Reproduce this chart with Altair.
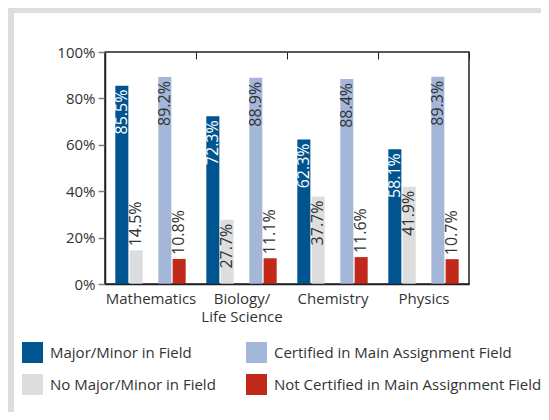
import altair as alt
import pandas as pd

subjects = ["Mathematics", "Biology/\nLife Science", "Chemistry", "Physics"]
major = [85.5, 72.3, 62.3, 58.1]
no_major = [14.5, 27.7, 37.7, 41.9]
certified = [89.2, 88.9, 88.4, 89.3]
not_certified = [10.8, 11.1, 11.6, 10.7]

series_names = [
    "Major/Minor in Field",
    "No Major/Minor in Field",
    "Certified in Main Assignment Field",
    "Not Certified in Main Assignment Field",
]
series_values = [major, no_major, certified, not_certified]
series_colors = ["#00548f", "#dcdddf", "#a4b7d8", "#c1291b"]
y_ticks = [0, 20, 40, 60, 80, 100]

rows = []
for name, vals in zip(series_names, series_values):
    for s, v in zip(subjects, vals):
        rows.append({"subject": s, "series": name, "value": v})
df = pd.DataFrame(rows)

offset_domain = [series_names[0], series_names[1], "gap", series_names[2], series_names[3]]

FONT = "Open Sans"
DARK = "#231f20"
TEXT = "#333333"
BG = "#dcdddf"

x = alt.X(
    "subject:N",
    sort=subjects,
    title=None,
    scale=alt.Scale(paddingInner=0, paddingOuter=0),
    axis=alt.Axis(
        tickBand="extent",
        ticks=False,
        tickSize=0,
        grid=True,
        gridDash=[7, 1000],
        gridColor=DARK,
        gridWidth=1,
        labelAngle=0,
        labelFont=FONT,
        labelFontSize=15,
        labelColor=TEXT,
        labelPadding=7,
        labelLineHeight=18,
        labelBaseline="top",
        labelExpr="split(datum.label, '\\n')",
        domainColor=DARK,
        domainWidth=1.5,
        zindex=1,
    ),
)
xo = alt.XOffset(
    "series:N",
    scale=alt.Scale(domain=offset_domain, paddingInner=0.09, paddingOuter=0.72),
)
y = alt.Y(
    "value:Q",
    title=None,
    scale=alt.Scale(domain=[0, 100], nice=False),
    axis=alt.Axis(
        values=y_ticks,
        labelExpr="datum.value + '%'",
        labelFont=FONT,
        labelFontSize=15,
        labelColor=TEXT,
        labelPadding=3,
        tickSize=7,
        tickColor="#808080",
        tickWidth=1.5,
        domainColor=DARK,
        domainWidth=1.5,
        grid=False,
        zindex=1,
    ),
)

base = alt.Chart(df).encode(x=x, xOffset=xo, y=y)

bars = base.mark_bar().encode(
    color=alt.Color(
        "series:N",
        scale=alt.Scale(domain=series_names, range=series_colors),
        legend=alt.Legend(
            title=None,
            orient="none",
            legendX=-83,
            legendY=290,
            columns=2,
            columnPadding=30,
            rowPadding=11,
            symbolType="square",
            symbolSize=441,
            symbolStrokeWidth=0,
            symbolOpacity=1,
            labelFont=FONT,
            labelFontSize=15,
            labelColor=TEXT,
            labelOffset=7,
            labelLimit=400,
            padding=0,
        ),
    )
)

label_color = alt.condition(
    "datum.series == 'Major/Minor in Field'", alt.value("white"), alt.value(TEXT)
)

labels_in = (
    base.transform_filter("datum.value >= 20")
    .transform_calculate(lbl="format(datum.value, '.1f') + '%'")
    .mark_text(angle=270, align="right", baseline="middle", dx=-4, font=FONT, fontSize=16)
    .encode(text="lbl:N", color=label_color)
)
labels_out = (
    base.transform_filter("datum.value < 20")
    .transform_calculate(lbl="format(datum.value, '.1f') + '%'")
    .mark_text(angle=270, align="left", baseline="middle", dx=4, font=FONT, fontSize=16)
    .encode(text="lbl:N", color=alt.value(TEXT))
)

one = alt.Data(values=[{"k": 1}])
strip_top = alt.Chart(one).mark_rect(color=BG).encode(
    x=alt.value(-97), x2=alt.value(436), y=alt.value(-44), y2=alt.value(-39)
)
strip_left = alt.Chart(one).mark_rect(color=BG).encode(
    x=alt.value(-97), x2=alt.value(-91), y=alt.value(-44), y2=alt.value(360)
)

chart = (
    alt.layer(strip_top, strip_left, bars, labels_in, labels_out)
    .properties(
        width=364,
        height=232,
        padding={"left": 97, "top": 44, "right": 72, "bottom": 128},
        autosize=alt.AutoSizeParams(type="none"),
        background="white",
    )
    .configure_view(stroke=DARK, strokeWidth=1.5)
)

chart.save("out.html", embed_options={"renderer": "svg", "actions": False})
